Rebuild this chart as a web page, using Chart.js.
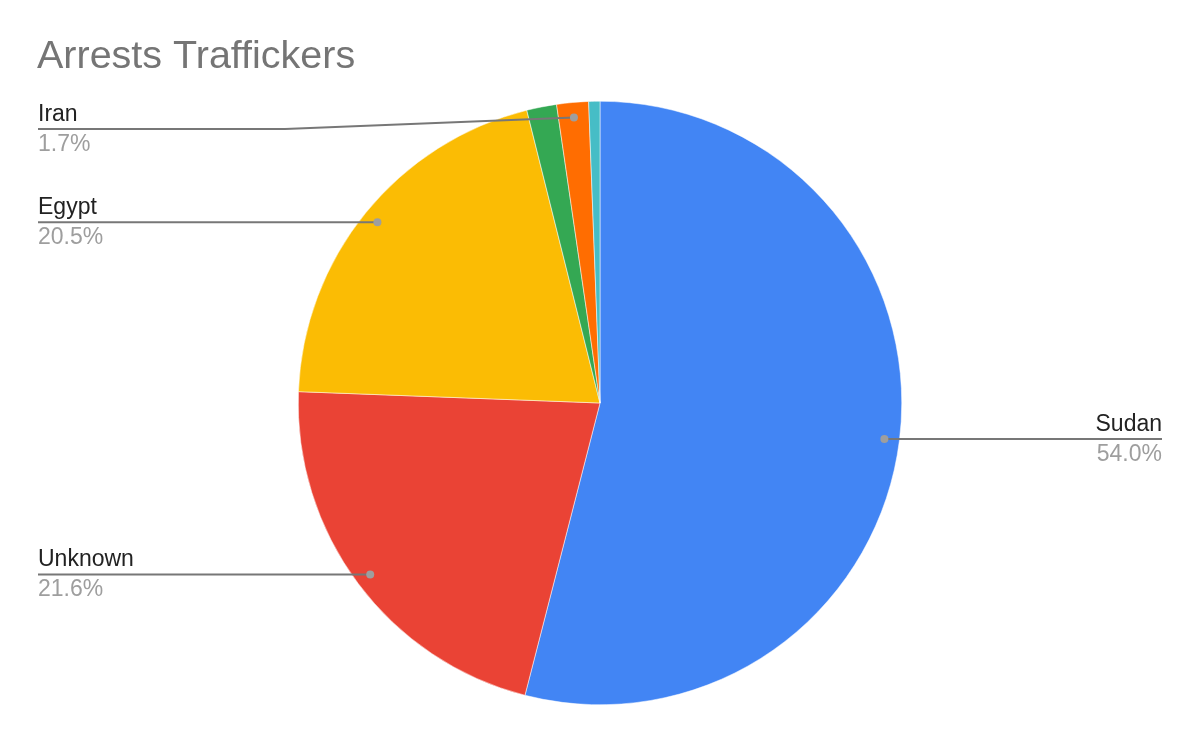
<!DOCTYPE html>
<html>
<head>
<meta charset="utf-8">
<script src="https://cdn.jsdelivr.net/npm/chart.js@4.4.1/dist/chart.umd.min.js"></script>
<style>
  html, body { margin: 0; padding: 0; background: #ffffff; }
  #wrap { width: 1200px; height: 741px; position: relative; }
</style>
</head>
<body>
<div id="wrap"><canvas id="pie" width="1200" height="741"></canvas></div>
<script>
// Nationality of arrested traffickers (share of arrests, %)
const chartTitle = 'Arrests Traffickers';
const categories = ['Sudan', 'Unknown', 'Egypt', 'Libya', 'Iran', 'Other'];
const shares = [54.0, 21.6, 20.5, 1.6, 1.7, 0.6];
const sliceColors = ['#4285F4', '#EA4335', '#FBBC04', '#34A853', '#FF6D01', '#46BDC6'];
// slices that get a callout, and which side their text sits on
const labelled = ['Sudan', 'Unknown', 'Egypt', 'Iran'];
const labelSide = { Sudan: 'right', Unknown: 'left', Egypt: 'left', Iran: 'left' };

const FONT = '"Liberation Sans", Arial, sans-serif';

const calloutPlugin = {
  id: 'callouts',
  afterDraw(chart) {
    const ctx = chart.ctx;
    const meta = chart.getDatasetMeta(0);
    const total = shares.reduce((a, b) => a + b, 0);

    // title
    ctx.save();
    ctx.font = '39.5px ' + FONT;
    ctx.fillStyle = '#757575';
    ctx.textAlign = 'left';
    ctx.textBaseline = 'alphabetic';
    ctx.fillText(chartTitle, 37, 68);
    ctx.restore();

    const leftX = 38, rightX = 1162, elbowX = 285, minLineY = 129;

    meta.data.forEach((arc, i) => {
      const name = categories[i];
      if (!labelled.includes(name)) return;
      const p = arc.getProps(['x', 'y', 'startAngle', 'endAngle', 'outerRadius'], true);
      const mid = (p.startAngle + p.endAngle) / 2;
      const r = p.outerRadius * 0.95;
      const dx = p.x + Math.cos(mid) * r;
      const dy = p.y + Math.sin(mid) * r;
      const lineY = Math.max(dy, minLineY);
      const side = labelSide[name];
      const endX = side === 'left' ? leftX : rightX;

      ctx.save();
      ctx.strokeStyle = '#777777';
      ctx.lineWidth = 2;
      ctx.beginPath();
      ctx.moveTo(endX, lineY);
      if (Math.abs(lineY - dy) > 0.5) {
        ctx.lineTo(elbowX, lineY);
      }
      ctx.lineTo(dx, dy);
      ctx.stroke();

      ctx.fillStyle = '#9e9e9e';
      ctx.beginPath();
      ctx.arc(dx, dy, 4, 0, Math.PI * 2);
      ctx.fill();

      ctx.textAlign = side === 'left' ? 'left' : 'right';
      ctx.textBaseline = 'alphabetic';
      ctx.font = '23px ' + FONT;
      ctx.fillStyle = '#222222';
      ctx.fillText(name, endX, lineY - 8);
      ctx.fillStyle = '#9e9e9e';
      const pct = (shares[i] / total * 100).toFixed(1) + '%';
      ctx.fillText(pct, endX, lineY + 22);
      ctx.restore();
    });
  }
};

new Chart(document.getElementById('pie'), {
  type: 'pie',
  data: {
    labels: categories,
    datasets: [{
      data: shares,
      backgroundColor: sliceColors,
      borderColor: '#ffffff',
      borderWidth: 0.5
    }]
  },
  options: {
    responsive: false,
    animation: false,
    layout: { padding: { top: 101, bottom: 36, left: 298, right: 298 } },
    plugins: {
      legend: { display: false },
      title: { display: false },
      tooltip: { enabled: false }
    }
  },
  plugins: [calloutPlugin]
});
</script>
</body>
</html>
